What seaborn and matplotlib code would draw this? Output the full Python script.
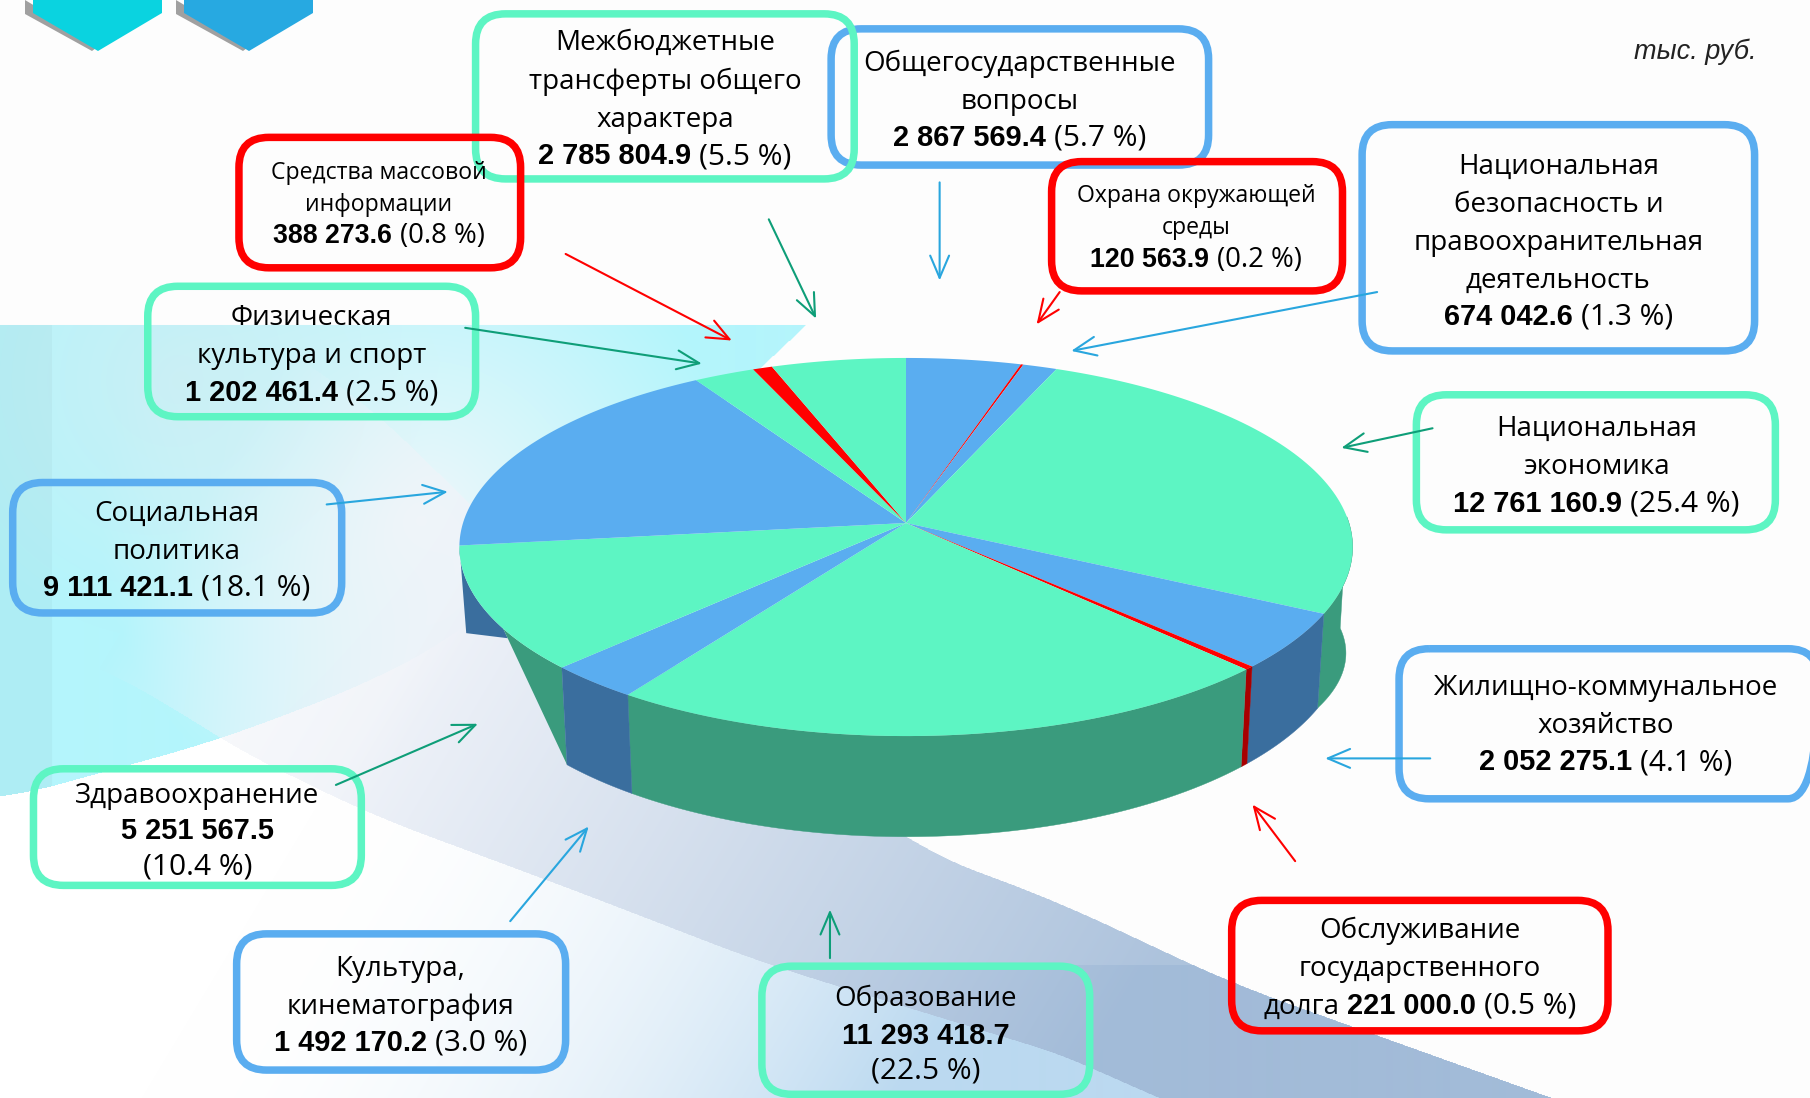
import numpy as np
import matplotlib
matplotlib.use("Agg")
import matplotlib.pyplot as plt
import seaborn as sns
from matplotlib.patches import FancyBboxPatch, Polygon

# Budget items, clockwise from 12 o'clock
names = [
    ["Общегосударственные", "вопросы"],
    ["Охрана окружающей", "среды"],
    ["Национальная", "безопасность и", "правоохранительная", "деятельность"],
    ["Национальная", "экономика"],
    ["Жилищно-коммунальное", "хозяйство"],
    ["Обслуживание", "государственного"],
    ["Образование"],
    ["Культура,", "кинематография"],
    ["Здравоохранение"],
    ["Социальная", "политика"],
    ["Физическая", "культура и спорт"],
    ["Средства массовой", "информации"],
    ["Межбюджетные", "трансферты общего", "характера"],
]
amounts = ["2 867 569.4", "120 563.9", "674 042.6", "12 761 160.9", "2 052 275.1",
           "221 000.0", "11 293 418.7", "1 492 170.2", "5 251 567.5", "9 111 421.1",
           "1 202 461.4", "388 273.6", "2 785 804.9"]
percents = ["(5.7 %)", "(0.2 %)", "(1.3 %)", "(25.4 %)", "(4.1 %)", "(0.5 %)", "(22.5 %)",
            "(3.0 %)", "(10.4 %)", "(18.1 %)", "(2.5 %)", "(0.8 %)", "(5.5 %)"]
# slice sizes as they are drawn in the pie
shares = [4.7, 0.1, 1.4, 26.4, 4.8, 0.3, 21.8, 3.0, 10.6, 18.1, 2.5, 0.8, 5.5]
kinds = ["b", "r", "b", "g", "b", "r", "g", "b", "g", "b", "g", "r", "g"]

top_col = dict(zip("gbr", sns.color_palette(["#5DF5C3", "#5AADF0", "#FF0000"])))
wall_col = dict(zip("gbr", sns.color_palette(["#3A9B7D", "#3A6E9E", "#A80000"])))
arrow_col = dict(zip("gbr", sns.color_palette(["#0E9E78", "#29A6DE", "#FF0000"])))

# layout: box (x0, y0, x1, y1), line centres, text centre, arrow tail and head, small flag
S = 1810 / 1568
layout = [
    ((720, 25, 1047, 143), (53, 86, 118), 883, (814, 158), (814, 243), False),
    ((911, 140, 1163, 252), (168, 196, 224), 1036, (918, 253), (898, 281), True),
    ((1180, 108, 1520, 304), (142, 175, 208, 241, 273), 1350, (1193, 253), (928, 304), False),
    ((1227, 342, 1538, 459), (369, 402, 435), 1383, (1241, 371), (1162, 388), False),
    ((1212, 562, 1575, 692), (594, 627, 659), 1391, (1239, 657), (1148, 657), False),
    ((1067, 780, 1393, 893), (804, 837, 870), 1230, (1122, 746), (1085, 697), False),
    ((660, 837, 944, 948), (863, 896, 926), 802, (719, 830), (719, 788), False),
    ((205, 809, 490, 927), (837, 870, 902), 347, (442, 798), (510, 716), False),
    ((29, 666, 313, 767), (687, 719, 749), 171, (291, 680), (414, 627), False),
    ((11, 418, 296, 531), (443, 476, 508), 153, (283, 437), (388, 426), False),
    ((128, 248, 412, 361), (273, 306, 339), 270, (403, 284), (608, 315), False),
    ((207, 119, 451, 232), (148, 176, 204), 328, (490, 220), (634, 295), True),
    ((412, 12, 740, 155), (35, 69, 102, 134), 576, (666, 190), (707, 276), False),
]
draw_order = [0, 1, 2, 3, 4, 5, 6, 7, 8, 9, 10, 12, 11]
TEXT_FONT = "Open Sans"
NUM_FONT = "Liberation Sans"
TEXT_SIZE = 20.0
NUM_SIZE = 20.9
PCT_SIZE = 21.5

# pie projection
CX, CY = 906, 523
A, B, K = 443, 186, 0.127
WALL_D, WALL_SY, WALL_SX = 90, 1.05, 0.985


def rim(deg):
    t = np.radians(np.asarray(deg, dtype=float))
    w = 1 + K * np.cos(t)
    return A * np.sin(t) / w, B * np.cos(t) / w


def top_pts(deg):
    x, y = rim(deg)
    return np.column_stack([CX + x, CY - y])


def bot_pts(deg):
    x, y = rim(deg)
    # the wall is a bit deeper at the far right end
    extra = 22 * np.clip(1 - (np.asarray(deg, dtype=float) - 88) / 29, 0, 1)
    return np.column_stack([CX + WALL_SX * x, CY - WALL_SY * y + WALL_D + extra])


def smooth_curve(px, py):
    xs = np.arange(1810)
    c = np.interp(xs, px, py)
    pad = 60
    c = np.concatenate([np.full(pad, c[0]), c, np.full(pad, c[-1])])
    k = np.ones(2 * pad + 1) / (2 * pad + 1)
    return np.convolve(c, k, mode="same")[pad:-pad]


def background():
    yy, xx = np.mgrid[0:1098, 0:1810].astype(float)
    ix = xx.astype(int)
    curve_c = smooth_curve([0, 217, 367, 460, 640, 805, 1810], [800, 740, 683, 633, 480, 325, 325])[ix]
    curve_c = np.where(xx > 640, np.interp(xx, [640, 805, 1810], [480, 325, 325]), curve_c)
    curve_u = smooth_curve([0, 250, 393, 467, 919, 1054, 1231, 1549, 1810],
                           [325, 325, 423, 507, 850, 900, 983, 1097, 1190])[ix]
    curve_l = smooth_curve([0, 150, 215, 367, 574, 763, 1089, 1150, 1810],
                           [627, 690, 738, 813, 890, 963, 1063, 1098, 1300])[ix]
    img = np.ones(xx.shape + (3,)) * (253 / 255)
    u = xx + 0.6 * yy

    # cyan area, fading towards the middle
    cyan = np.array([0xB4, 0xF5, 0xFC]) / 255
    pale = np.array([0xEE, 0xF7, 0xFA]) / 255
    greyish = np.array([0xCF, 0xEE, 0xF3]) / 255
    t = np.clip(1 - np.hypot(xx - 420, yy - 520) / 320, 0, 1)[..., None]
    cyan_img = cyan * (1 - t) + pale * t
    t2 = (np.clip(1 - np.hypot(xx - 180, yy - 380) / 260, 0, 1) * 0.8)[..., None]
    cyan_img = cyan_img * (1 - t2) + greyish * t2
    cyan_img = np.where((xx < 52)[..., None], cyan_img * 0.97, cyan_img)
    in_cyan = (yy >= 325) & (yy < curve_c)
    img[in_cyan] = cyan_img[in_cyan]

    # pale blue below the band
    r = (np.clip((u - 800) / 754, 0, 1) ** 2)[..., None]
    blue_img = np.array([1, 1, 1]) * (1 - r) + np.array([0xBB, 0xD9, 0xF0]) / 255 * r
    m = (yy >= curve_l) & ~in_cyan
    img[m] = blue_img[m]

    # grey-blue band
    s = np.clip((u - 800) / 930, 0, 1)
    s = np.where(yy < 965, s * 0.85, s)[..., None]
    band = np.array([0xF0, 0xF3, 0xF9]) / 255 * (1 - s) + np.array([0xA2, 0xBB, 0xD8]) / 255 * s
    alpha = np.clip((u - 500) / 350, 0, 1)[..., None]
    m = (yy >= 325) & (yy > curve_u) & (yy < curve_l)
    img[m] = (img * (1 - alpha) + band * alpha)[m]
    return img


sns.set_theme(style="white")
plt.rcParams["font.family"] = [TEXT_FONT, "DejaVu Sans"]

fig = plt.figure(figsize=(18.1, 10.98), dpi=100)
ax = fig.add_axes([0, 0, 1, 1])
ax.imshow(background(), extent=(0, 1810, 1098, 0), aspect="auto", zorder=0, interpolation="bilinear")
ax.set_xlim(0, 1810)
ax.set_ylim(1098, 0)
ax.axis("off")

# tabs in the top left corner
for shift, col in [(0, "#0AD3E0"), (151, "#27A9E1")]:
    ax.add_patch(Polygon([(25 + shift, 0), (25 + shift, 14), (92 + shift, 51), (100 + shift, 45)],
                         fc="#A0A0A0", lw=0, zorder=1))
    ax.add_patch(Polygon([(33 + shift, 0), (162 + shift, 0), (162 + shift, 13), (98 + shift, 51), (33 + shift, 13)],
                         fc=col, lw=0, zorder=1))

edges = np.concatenate([[0], np.cumsum(shares)]) / np.sum(shares) * 360

# left side of the wall is broken in the picture: a stub and a straight cut
CUT_DEG = 238
i_health = 8
i_soc = 9
h0, h1 = edges[i_health], edges[i_soc]
cut_arc = np.linspace(CUT_DEG, h0, 30)
corner = bot_pts([h0])
stub_end = top_pts([CUT_DEG])[0] * 0.93 + corner[0] * 0.07
stub = np.vstack([top_pts(np.linspace(h1, CUT_DEG, 30)), [stub_end], bot_pts([h1 + 1])])
ax.add_patch(Polygon(stub, fc=wall_col["b"], lw=0, zorder=2))
ax.add_patch(Polygon(np.vstack([top_pts(cut_arc), corner]), fc=wall_col["g"], lw=0, zorder=3))

# walls, front half only
for i, kind in enumerate(kinds):
    t0, t1 = max(edges[i], 88), min(edges[i + 1], h0)
    if t1 <= t0:
        continue
    arc = np.linspace(t0, t1, 60)
    ax.add_patch(Polygon(np.vstack([top_pts(arc), bot_pts(arc[::-1])]),
                         fc=wall_col[kind], ec=wall_col[kind], lw=0.3, zorder=3))

# top face
for i, kind in enumerate(kinds):
    arc = np.linspace(edges[i], edges[i + 1], 80)
    ax.add_patch(Polygon(np.vstack([[CX, CY], top_pts(arc)]), fc=top_col[kind], lw=0, zorder=4))

# boxes and arrows
for i in draw_order:
    (x0, y0, x1, y1), ys, cx, tail, head, small = layout[i]
    col = top_col[kinds[i]]
    ax.add_patch(FancyBboxPatch((x0 * S, y0 * S), (x1 - x0) * S, (y1 - y0) * S,
                                boxstyle="round,pad=0,rounding_size=30", fc="none", ec=col,
                                lw=5.4, zorder=5 + draw_order.index(i) * 0.01))
    ax.annotate("", xy=(head[0] * S, head[1] * S), xytext=(tail[0] * S, tail[1] * S),
                arrowprops=dict(arrowstyle="->,head_length=0.8,head_width=0.34", lw=1.5,
                                color=arrow_col[kinds[i]], shrinkA=0, shrinkB=0, mutation_scale=20),
                zorder=7)

# labels: name lines, then the bold amount and the percent
fig.canvas.draw()
renderer = fig.canvas.get_renderer()


def put_line(parts, cx, yc, small):
    base = yc + (8 if small else 9.5)
    arts, width = [], 0
    for txt, part in parts:
        if part == "num":
            kw = dict(family=NUM_FONT, fontweight="bold", fontsize=NUM_SIZE * (0.92 if small else 1))
        elif part == "pct":
            kw = dict(family=TEXT_FONT, fontsize=PCT_SIZE * (0.92 if small else 1))
        else:
            kw = dict(family=TEXT_FONT, fontsize=TEXT_SIZE * (0.83 if small else 1))
        a = ax.text(0, base, txt, va="baseline", ha="left", color="black", zorder=8, **kw)
        w = a.get_window_extent(renderer).width
        arts.append((a, w))
        width += w
    gap = 8
    x = cx - (width + gap * (len(parts) - 1)) / 2
    for a, w in arts:
        a.set_x(x)
        x += w + gap


for i, (lines, amount, pct) in enumerate(zip(names, amounts, percents)):
    ys, cx, small = layout[i][1], layout[i][2], layout[i][5]
    rows = [[(t, "name")] for t in lines]
    if i == 5:  # debt label runs on into the value line
        rows.append([("долга", "name"), (amount, "num"), (pct, "pct")])
    elif i in (6, 8):  # value and percent on separate lines
        rows.append([(amount, "num")])
        rows.append([(pct, "pct")])
    else:
        rows.append([(amount, "num"), (pct, "pct")])
    for parts, yc in zip(rows, ys):
        put_line(parts, cx * S, yc * S, small)

ax.text(1756, 52, "тыс. руб.", ha="right", va="center", style="italic", family=NUM_FONT,
        fontsize=19.5, color="#222222", zorder=8)

fig.savefig("out.png", dpi=100)
